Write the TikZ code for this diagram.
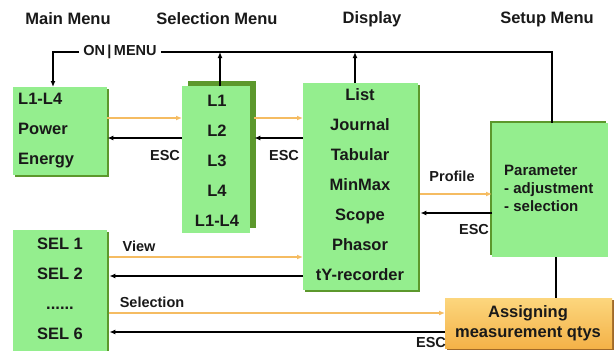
\documentclass[tikz,border=0pt]{standalone}
\usepackage{fontspec}
\setmainfont{Liberation Sans}
\usetikzlibrary{arrows.meta,shadows}
\definecolor{boxgreen}{RGB}{148,238,142}
\definecolor{shadegreen}{RGB}{92,152,44}
\definecolor{arrorange}{RGB}{245,188,98}
\definecolor{boxorangetop}{RGB}{252,214,125}
\definecolor{boxorangebot}{RGB}{244,178,72}
\definecolor{shadeorange}{RGB}{160,105,40}
\begin{document}
\begin{tikzpicture}[x=1pt,y=-1pt,
  greenbox/.style={fill=boxgreen, draw=none, anchor=north west, inner sep=0pt},
  shadeR/.style={general shadow={fill=shadegreen, shadow xshift=2pt, shadow yshift=-2pt}},
  shadeL/.style={general shadow={fill=shadegreen, shadow xshift=-2pt, shadow yshift=2pt}},
  boxtext/.style={font=\fontsize{16.5}{30}\selectfont\bfseries, align=center, inner sep=0pt, text=black!90},
  header/.style={font=\fontsize{16.5}{20}\selectfont\bfseries, inner sep=0pt, text=black!90},
  lbl/.style={font=\fontsize{14.5}{17}\selectfont\bfseries, inner sep=0pt, text=black!90},
  blk/.style={line width=1.8pt, draw=black},
  blkarrow/.style={blk, -{Latex[length=6pt,width=5pt]}},
  orarrow/.style={line width=1.8pt, draw=arrorange, -{Latex[length=6pt,width=5pt]}}
]
\useasboundingbox[fill=white] (0,0) rectangle (614,351);

% headers
\node[header] (h1) at (68,19) {Main Menu};
\node[header] (h2) at (217,19) {Selection Menu};
\node[header] (h3) at (372,19) {Display};
\node[header] (h4) at (547,19) {Setup Menu};

% boxes
\node[greenbox, shadeR, minimum width=94pt, minimum height=88pt] (main) at (13,87) {};
\node[greenbox, general shadow={fill=shadegreen, shadow xshift=6pt, shadow yshift=5pt},
      minimum width=68pt, minimum height=147pt] (selbox) at (182,86) {};
\node[greenbox, shadeR, minimum width=115pt, minimum height=207pt] (disp) at (303,83) {};
\node[greenbox, shadeL, minimum width=116pt, minimum height=134pt] (setup) at (492,123) {};
\node[greenbox, shadeR, minimum width=94pt, minimum height=140pt] (sel) at (13,230) {};
\node[anchor=north west, inner sep=0pt, minimum width=167pt, minimum height=50pt,
      top color=boxorangetop, bottom color=boxorangebot,
      general shadow={fill=shadeorange, shadow xshift=2pt, shadow yshift=-2pt}] (assign) at (445,298) {};

% box texts
\node[boxtext, align=left, anchor=west] (maintxt) at (18,131) {L1-L4\\Power\\Energy};
\node[boxtext] (seltxt) at (217,161) {L1\\L2\\L3\\L4\\L1-L4};
\node[boxtext] (disptxt) at (360,185) {List\\Journal\\Tabular\\MinMax\\Scope\\Phasor\\tY-recorder};
\node[font=\fontsize{15}{18}\selectfont\bfseries, align=left, inner sep=0pt, anchor=north west, text=black!90] (setuptxt) at (504,165) {Parameter\\- adjustment\\- selection};
\node[boxtext, align=center] (seltexts) at (60,289) {SEL 1\\SEL 2\\......\\SEL 6};
\node[font=\fontsize{16.5}{20}\selectfont\bfseries, align=center, inner sep=0pt, text=black!90] (assigntxt) at (528,323) {Assigning\\measurement qtys};

% ON | MENU loop
\node[lbl, inner xsep=4pt] (onmenu) at (120,52) {ON\,|\,MENU};
\draw[blkarrow] (onmenu.west) -| (main.north -| 53,0);
\draw[blk] (onmenu.east) -| (setup.north -| 552,0);
\coordinate (upA) at (220,52);
\coordinate (upB) at (355,52);
\draw[blkarrow] (selbox.north -| upA) -- (upA);
\draw[blkarrow] (disp.north -| upB) -- (upB);

% main <-> selection
\draw[orarrow] (main.east |- 0,118) -- (selbox.west |- 0,118);
\draw[blkarrow] (selbox.west |- 0,138) -- (main.east |- 0,138);
\node[lbl] (esc1) at (165,156) {ESC};

% selection <-> display
\draw[orarrow] ([xshift=4pt]selbox.east |- 0,118) -- (disp.west |- 0,118);
\draw[blkarrow] (disp.west |- 0,138) -- ([xshift=4pt]selbox.east |- 0,138);
\node[lbl] (esc2) at (284,156) {ESC};

% display <-> setup
\draw[orarrow] ([xshift=2pt]disp.east |- 0,194) -- (setup.west |- 0,194);
\node[lbl] (profile) at (452,176) {Profile};
\draw[blkarrow] (setup.west |- 0,213) -- ([xshift=2pt]disp.east |- 0,213);
\node[lbl] (esc3) at (474,230) {ESC};

% SEL <-> display
\draw[orarrow] ([xshift=2pt]sel.east |- 0,257) -- (disp.west |- 0,257);
\node[lbl] (view) at (139,246) {View};
\draw[blkarrow] (disp.west |- 0,276) -- ([xshift=2pt]sel.east |- 0,276);

% SEL <-> assign
\draw[orarrow] ([xshift=2pt]sel.east |- 0,313) -- (assign.west |- 0,313);
\node[lbl] (selection) at (152,302) {Selection};
\draw[blkarrow] (assign.west |- 0,332) -- ([xshift=2pt]sel.east |- 0,332);
\node[lbl] (esc4) at (431,343) {ESC};

% setup -- assign
\draw[blk] (setup.south -| 556,0) -- (assign.north -| 556,0);
\end{tikzpicture}
\end{document}
